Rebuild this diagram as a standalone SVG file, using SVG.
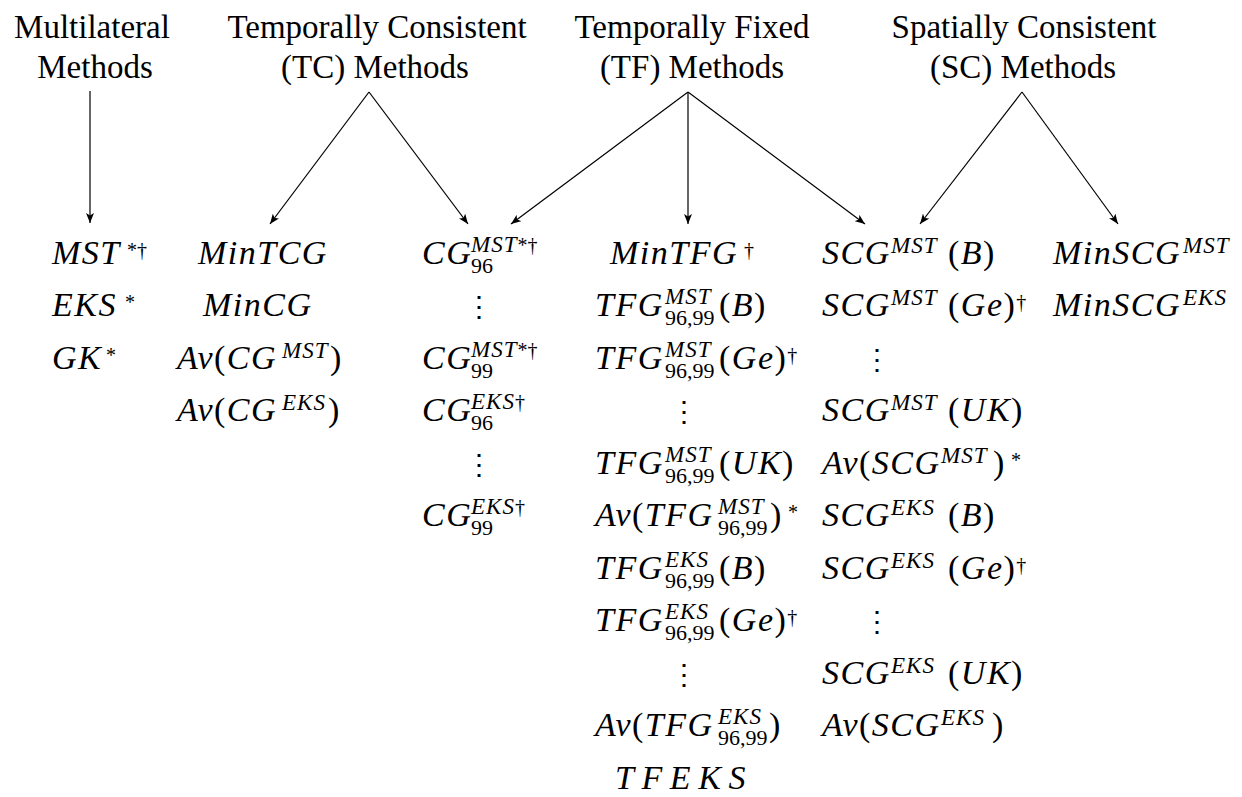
<svg xmlns="http://www.w3.org/2000/svg" width="1242" height="797" viewBox="0 0 1242 797">
<defs>
<marker id="ah" viewBox="0 0 10 8" refX="10" refY="4" markerWidth="10" markerHeight="8" markerUnits="userSpaceOnUse" orient="auto">
<path d="M0,0 L10,4 L0,8 L2.5,4 Z" fill="#000"/>
</marker>
</defs>
<rect width="1242" height="797" fill="#fff"/>

<g id="headers" font-family="Liberation Serif" font-size="33" text-anchor="middle" fill="#000">
<g id="h-multi"><text x="92" y="38">Multilateral</text><text x="95" y="78">Methods</text></g>
<g id="h-tc"><text x="377" y="38">Temporally Consistent</text><text x="375" y="78">(TC) Methods</text></g>
<g id="h-tf"><text x="692" y="38">Temporally Fixed</text><text x="692" y="78">(TF) Methods</text></g>
<g id="h-sc"><text x="1024" y="38">Spatially Consistent</text><text x="1023" y="78">(SC) Methods</text></g>
</g>

<g id="connectors" stroke="#000" stroke-width="1.2" fill="none">
<line x1="90" y1="91" x2="90" y2="223" marker-end="url(#ah)"/>
<line x1="369" y1="92" x2="270" y2="224" marker-end="url(#ah)"/>
<line x1="369" y1="92" x2="468" y2="224" marker-end="url(#ah)"/>
<line x1="688" y1="92" x2="511" y2="224" marker-end="url(#ah)"/>
<line x1="688" y1="92" x2="688" y2="224" marker-end="url(#ah)"/>
<line x1="688" y1="92" x2="865" y2="224" marker-end="url(#ah)"/>
<line x1="1022" y1="92" x2="920" y2="224" marker-end="url(#ah)"/>
<line x1="1022" y1="92" x2="1118" y2="224" marker-end="url(#ah)"/>
</g>

<g id="dots" font-family="DejaVu Serif" font-size="28" text-anchor="middle" fill="#000">
<g id="n-cgdots1"><text x="479" y="316">&#x22EE;</text></g>
<g id="n-cgdots2"><text x="479" y="474">&#x22EE;</text></g>
<g id="n-tfdots1"><text x="684" y="421">&#x22EE;</text></g>
<g id="n-tfdots2"><text x="684" y="684">&#x22EE;</text></g>
<g id="n-scdots1"><text x="877" y="369">&#x22EE;</text></g>
<g id="n-scdots2"><text x="877" y="631">&#x22EE;</text></g>
</g>

<g id="items" font-family="Liberation Serif" font-style="italic" font-size="34" letter-spacing="1.5" fill="#000">
<g id="n-mst"><text x="52" y="264">MST<tspan font-size="20" font-style="normal" letter-spacing="0" x="127" y="257">*&#x2020;</tspan></text></g>
<g id="n-eks"><text x="52" y="316">EKS<tspan font-size="20" font-style="normal" letter-spacing="0" x="125" y="309">*</tspan></text></g>
<g id="n-gk"><text x="52" y="369">GK<tspan font-size="20" font-style="normal" letter-spacing="0" x="106" y="362">*</tspan></text></g>

<g id="n-mintcg"><text x="198" y="264">MinTCG</text></g>
<g id="n-mincg"><text x="203" y="316">MinCG</text></g>
<g id="n-avcgmst"><text x="177" y="369">Av<tspan font-style="normal">(</tspan>CG<tspan font-size="23" letter-spacing="1" x="282" y="358">MST</tspan><tspan font-style="normal" x="330" y="369">)</tspan></text></g>
<g id="n-avcgeks"><text x="177" y="421">Av<tspan font-style="normal">(</tspan>CG<tspan font-size="23" letter-spacing="1" x="282" y="410">EKS</tspan><tspan font-style="normal" x="328" y="421">)</tspan></text></g>

<g id="n-cg96mst"><text x="422" y="264">CG<tspan font-size="23" letter-spacing="1" x="471" y="252">MST</tspan><tspan font-size="20" font-style="normal" letter-spacing="0">*&#x2020;</tspan><tspan font-size="22" font-style="normal" letter-spacing="0" x="471" y="273">96</tspan></text></g>
<g id="n-cg99mst"><text x="422" y="369">CG<tspan font-size="23" letter-spacing="1" x="471" y="357">MST</tspan><tspan font-size="20" font-style="normal" letter-spacing="0">*&#x2020;</tspan><tspan font-size="22" font-style="normal" letter-spacing="0" x="471" y="378">99</tspan></text></g>
<g id="n-cg96eks"><text x="422" y="421">CG<tspan font-size="23" letter-spacing="1" x="471" y="409">EKS</tspan><tspan font-size="20" font-style="normal" letter-spacing="0">&#x2020;</tspan><tspan font-size="22" font-style="normal" letter-spacing="0" x="471" y="430">96</tspan></text></g>
<g id="n-cg99eks"><text x="422" y="526">CG<tspan font-size="23" letter-spacing="1" x="471" y="514">EKS</tspan><tspan font-size="20" font-style="normal" letter-spacing="0">&#x2020;</tspan><tspan font-size="22" font-style="normal" letter-spacing="0" x="471" y="535">99</tspan></text></g>

<g id="n-mintfg"><text x="610" y="264">MinTFG<tspan font-size="20" font-style="normal" letter-spacing="0" x="744" y="257">&#x2020;</tspan></text></g>
<g id="n-tfgmstb"><text x="595" y="316">TFG<tspan font-size="23" letter-spacing="1" x="665" y="304">MST</tspan><tspan font-size="22" font-style="normal" letter-spacing="0" x="665" y="325">96,99</tspan><tspan font-style="normal" x="719" y="316">(</tspan>B<tspan font-style="normal">)</tspan></text></g>
<g id="n-tfgmstge"><text x="595" y="369">TFG<tspan font-size="23" letter-spacing="1" x="665" y="357">MST</tspan><tspan font-size="22" font-style="normal" letter-spacing="0" x="665" y="378">96,99</tspan><tspan font-style="normal" x="719" y="369">(</tspan>Ge<tspan font-style="normal">)</tspan><tspan font-size="20" font-style="normal" letter-spacing="0" y="362">&#x2020;</tspan></text></g>
<g id="n-tfgmstuk"><text x="595" y="474">TFG<tspan font-size="23" letter-spacing="1" x="665" y="462">MST</tspan><tspan font-size="22" font-style="normal" letter-spacing="0" x="665" y="483">96,99</tspan><tspan font-style="normal" x="719" y="474">(</tspan>UK<tspan font-style="normal">)</tspan></text></g>
<g id="n-avtfgmst"><text x="595" y="526">Av<tspan font-style="normal">(</tspan>TFG<tspan font-size="23" letter-spacing="1" x="718" y="514">MST</tspan><tspan font-size="22" font-style="normal" letter-spacing="0" x="718" y="535">96,99</tspan><tspan font-style="normal" x="770" y="526">)</tspan><tspan font-size="20" font-style="normal" letter-spacing="0" x="788" y="519">*</tspan></text></g>
<g id="n-tfgeksb"><text x="595" y="579">TFG<tspan font-size="23" letter-spacing="1" x="665" y="567">EKS</tspan><tspan font-size="22" font-style="normal" letter-spacing="0" x="665" y="588">96,99</tspan><tspan font-style="normal" x="719" y="579">(</tspan>B<tspan font-style="normal">)</tspan></text></g>
<g id="n-tfgeksge"><text x="595" y="631">TFG<tspan font-size="23" letter-spacing="1" x="665" y="619">EKS</tspan><tspan font-size="22" font-style="normal" letter-spacing="0" x="665" y="640">96,99</tspan><tspan font-style="normal" x="719" y="631">(</tspan>Ge<tspan font-style="normal">)</tspan><tspan font-size="20" font-style="normal" letter-spacing="0" y="624">&#x2020;</tspan></text></g>
<g id="n-avtfgeks"><text x="595" y="736">Av<tspan font-style="normal">(</tspan>TFG<tspan font-size="23" letter-spacing="1" x="718" y="724">EKS</tspan><tspan font-size="22" font-style="normal" letter-spacing="0" x="718" y="745">96,99</tspan><tspan font-style="normal" x="769" y="736">)</tspan></text></g>
<g id="n-tfeks"><text x="615" y="789" textLength="132">TFEKS</text></g>

<g id="n-scgmstb"><text x="822" y="264">SCG<tspan font-size="23" letter-spacing="1" x="891" y="253">MST</tspan><tspan font-style="normal" x="948" y="264">(</tspan>B<tspan font-style="normal">)</tspan></text></g>
<g id="n-scgmstge"><text x="822" y="316">SCG<tspan font-size="23" letter-spacing="1" x="891" y="305">MST</tspan><tspan font-style="normal" x="948" y="316">(</tspan>Ge<tspan font-style="normal">)</tspan><tspan font-size="20" font-style="normal" letter-spacing="0" y="309">&#x2020;</tspan></text></g>
<g id="n-scgmstuk"><text x="822" y="421">SCG<tspan font-size="23" letter-spacing="1" x="891" y="410">MST</tspan><tspan font-style="normal" x="948" y="421">(</tspan>UK<tspan font-style="normal">)</tspan></text></g>
<g id="n-avscgmst"><text x="822" y="474">Av<tspan font-style="normal">(</tspan>SCG<tspan font-size="23" letter-spacing="1" x="941" y="463">MST</tspan><tspan font-style="normal" x="993" y="474">)</tspan><tspan font-size="20" font-style="normal" letter-spacing="0" x="1011" y="467">*</tspan></text></g>
<g id="n-scgeksb"><text x="822" y="526">SCG<tspan font-size="23" letter-spacing="1" x="891" y="515">EKS</tspan><tspan font-style="normal" x="948" y="526">(</tspan>B<tspan font-style="normal">)</tspan></text></g>
<g id="n-scgeksge"><text x="822" y="579">SCG<tspan font-size="23" letter-spacing="1" x="891" y="568">EKS</tspan><tspan font-style="normal" x="948" y="579">(</tspan>Ge<tspan font-style="normal">)</tspan><tspan font-size="20" font-style="normal" letter-spacing="0" y="572">&#x2020;</tspan></text></g>
<g id="n-scgeksuk"><text x="822" y="684">SCG<tspan font-size="23" letter-spacing="1" x="891" y="673">EKS</tspan><tspan font-style="normal" x="948" y="684">(</tspan>UK<tspan font-style="normal">)</tspan></text></g>
<g id="n-avscgeks"><text x="822" y="736">Av<tspan font-style="normal">(</tspan>SCG<tspan font-size="23" letter-spacing="1" x="941" y="725">EKS</tspan><tspan font-style="normal" x="992" y="736">)</tspan></text></g>

<g id="n-minscgmst"><text x="1053" y="264">MinSCG<tspan font-size="23" letter-spacing="1" x="1183" y="253">MST</tspan></text></g>
<g id="n-minscgeks"><text x="1053" y="316">MinSCG<tspan font-size="23" letter-spacing="1" x="1183" y="305">EKS</tspan></text></g>
</g>
</svg>
